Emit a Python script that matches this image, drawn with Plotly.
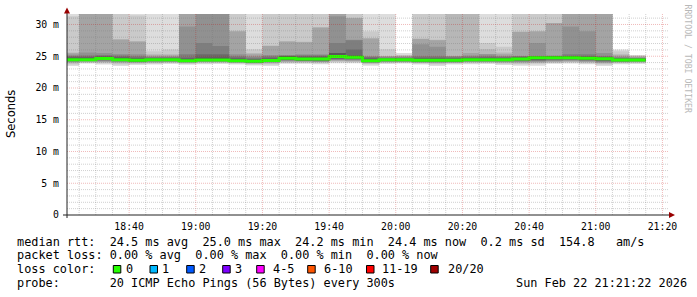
import plotly.graph_objects as go
import pandas as pd

# ---------------- data ----------------
first_bin_start = "2026-02-22 18:20:00"
view_start = "2026-02-22 18:21:22"
view_end = "2026-02-22 21:21:22"

# median rtt per 5-minute bin (ms)
median_ms = [24.45, 24.45, 24.65, 24.45, 24.35, 24.45, 24.45, 24.30, 24.40, 24.40,
             24.30, 24.20, 24.33, 24.70, 24.55, 24.55, 24.97, 24.85, 24.30, 24.45,
             24.45, 24.35, 24.35, 24.35, 24.45, 24.45, 24.45, 24.57, 24.75, 24.78,
             24.78, 24.67, 24.60, 24.42, 24.42]

# 20 sorted ping rtts per bin (ms)
pings_ms = [
    [23.45, 23.7, 23.9, 24.0, 24.1, 24.2, 24.25, 24.3, 24.35, 24.4, 24.5, 24.6, 24.75, 24.9, 25.05, 25.25, 25.45, 25.6, 31.3, 36.0],
    [23.85, 23.95, 24.05, 24.15, 24.2, 24.25, 24.3, 24.35, 24.38, 24.4, 24.5, 24.6, 24.75, 24.9, 25.1, 25.6, 33.0, 35.0, 37.0, 40.0],
    [23.7, 23.9, 24.0, 24.1, 24.2, 24.3, 24.4, 24.45, 24.55, 24.6, 24.7, 24.8, 24.9, 25.0, 25.2, 25.5, 33.0, 35.0, 37.0, 40.0],
    [23.45, 23.7, 23.9, 24.0, 24.1, 24.2, 24.25, 24.3, 24.35, 24.4, 24.5, 24.6, 24.75, 24.9, 25.1, 25.35, 27.6, 27.7, 34.0, 38.0],
    [23.6, 23.8, 23.9, 24.0, 24.05, 24.1, 24.15, 24.2, 24.25, 24.3, 24.4, 24.5, 24.65, 24.8, 25.0, 25.3, 27.3, 27.4, 31.4, 36.0],
    [23.7, 23.85, 23.95, 24.05, 24.15, 24.2, 24.25, 24.3, 24.35, 24.4, 24.5, 24.55, 24.65, 24.75, 24.85, 24.95, 25.1, 25.3, 25.8, 35.0],
    [23.8, 23.9, 24.0, 24.1, 24.15, 24.2, 24.25, 24.3, 24.35, 24.4, 24.5, 24.55, 24.65, 24.75, 24.85, 24.95, 25.1, 25.3, 26.05, 35.0],
    [23.65, 23.8, 23.9, 24.0, 24.05, 24.1, 24.15, 24.2, 24.22, 24.25, 24.35, 24.45, 24.6, 24.8, 25.3, 29.7, 33.0, 35.0, 37.0, 40.0],
    [23.75, 23.9, 24.0, 24.1, 24.15, 24.2, 24.25, 24.3, 24.32, 24.35, 24.45, 24.6, 24.8, 25.3, 27.1, 33.0, 35.0, 37.0, 39.0, 42.0],
    [23.8, 23.9, 24.0, 24.1, 24.15, 24.2, 24.25, 24.3, 24.32, 24.35, 24.45, 24.6, 24.8, 25.3, 26.6, 33.0, 35.0, 37.0, 39.0, 42.0],
    [23.7, 23.85, 23.95, 24.0, 24.05, 24.1, 24.15, 24.2, 24.22, 24.25, 24.35, 24.45, 24.6, 24.8, 25.0, 25.3, 28.9, 29.0, 34.0, 38.0],
    [23.55, 23.7, 23.8, 23.9, 23.95, 24.0, 24.03, 24.06, 24.08, 24.1, 24.3, 24.35, 24.45, 24.6, 24.8, 25.0, 25.3, 25.5, 26.1, 35.0],
    [23.45, 23.7, 23.85, 23.95, 24.05, 24.1, 24.15, 24.2, 24.25, 24.31, 24.35, 24.45, 24.6, 24.8, 25.0, 25.2, 26.6, 26.7, 33.0, 38.0],
    [23.8, 23.95, 24.05, 24.15, 24.25, 24.35, 24.4, 24.45, 24.5, 24.6, 24.8, 24.9, 25.0, 25.05, 25.1, 25.2, 27.3, 27.4, 33.0, 38.0],
    [23.8, 23.95, 24.05, 24.15, 24.2, 24.25, 24.3, 24.35, 24.4, 24.5, 24.6, 24.7, 24.85, 25.0, 25.15, 25.3, 27.2, 27.3, 33.0, 38.0],
    [23.75, 23.9, 24.0, 24.1, 24.15, 24.2, 24.3, 24.35, 24.4, 24.5, 24.6, 24.7, 24.85, 25.0, 25.15, 25.3, 29.5, 29.6, 33.0, 38.0],
    [23.9, 24.1, 24.2, 24.3, 24.4, 24.5, 24.6, 24.7, 24.8, 24.94, 25.0, 25.1, 25.5, 25.5, 27.1, 31.3, 34.0, 36.0, 38.0, 40.0],
    [23.9, 24.05, 24.15, 24.25, 24.35, 24.45, 24.55, 24.65, 24.7, 24.8, 24.9, 25.0, 25.1, 26.05, 27.5, 27.6, 31.0, 31.05, 34.0, 38.0],
    [23.5, 23.75, 23.85, 23.95, 24.0, 24.05, 24.1, 24.15, 24.2, 24.25, 24.35, 24.45, 24.6, 24.8, 24.9, 25.0, 27.8, 27.85, 28.9, 35.0],
    [23.8, 23.9, 24.0, 24.1, 24.15, 24.2, 24.25, 24.3, 24.35, 24.4, 24.5, 24.55, 24.6, 24.7, 24.8, 24.9, 25.0, 25.05, 26.1, 35.0],
    [23.85, 23.95, 24.05, 24.1, 24.15, 24.2, 24.25, 24.3, 24.35, 24.4, 24.5, 24.55, 24.6, 24.7, 24.8, 24.9, 25.0, 25.1, 25.2, 25.5],
    [23.7, 23.85, 23.95, 24.0, 24.05, 24.1, 24.15, 24.2, 24.25, 24.3, 24.4, 24.5, 24.65, 24.8, 25.0, 26.9, 27.7, 27.8, 34.0, 38.0],
    [23.45, 23.7, 23.85, 23.95, 24.0, 24.1, 24.15, 24.2, 24.25, 24.3, 24.4, 24.5, 24.65, 24.8, 25.0, 26.5, 27.5, 27.6, 34.0, 38.0],
    [23.7, 23.85, 23.95, 24.0, 24.05, 24.1, 24.15, 24.2, 24.25, 24.3, 24.4, 24.5, 24.6, 24.75, 24.9, 25.0, 25.05, 33.0, 36.0, 40.0],
    [23.75, 23.9, 24.0, 24.1, 24.15, 24.2, 24.25, 24.3, 24.35, 24.4, 24.5, 24.6, 24.7, 24.8, 24.95, 25.1, 25.5, 33.0, 36.0, 40.0],
    [23.8, 23.9, 24.0, 24.1, 24.15, 24.2, 24.25, 24.3, 24.35, 24.4, 24.5, 24.6, 24.7, 24.85, 25.0, 25.3, 25.35, 26.1, 27.1, 35.0],
    [23.6, 23.8, 23.95, 24.05, 24.1, 24.2, 24.25, 24.3, 24.35, 24.4, 24.5, 24.6, 24.7, 24.8, 24.9, 25.05, 25.3, 25.6, 26.5, 35.0],
    [23.5, 23.75, 23.9, 24.0, 24.1, 24.2, 24.3, 24.4, 24.45, 24.54, 24.6, 24.7, 24.8, 24.9, 25.0, 25.05, 28.8, 28.9, 34.0, 38.0],
    [23.5, 23.8, 23.95, 24.05, 24.15, 24.25, 24.35, 24.45, 24.55, 24.7, 24.8, 24.85, 24.9, 25.0, 25.05, 27.1, 28.9, 28.95, 34.0, 38.0],
    [23.8, 23.95, 24.05, 24.15, 24.25, 24.35, 24.45, 24.55, 24.6, 24.71, 24.85, 24.9, 24.95, 25.0, 25.05, 25.1, 30.2, 30.25, 34.0, 38.0],
    [23.85, 24.0, 24.1, 24.2, 24.3, 24.4, 24.5, 24.55, 24.6, 24.71, 24.85, 24.9, 24.95, 25.0, 25.3, 29.7, 33.0, 35.0, 37.0, 40.0],
    [23.75, 23.9, 24.0, 24.1, 24.2, 24.3, 24.4, 24.45, 24.5, 24.59, 24.75, 24.8, 24.9, 25.0, 25.3, 28.95, 33.0, 35.0, 37.0, 40.0],
    [23.45, 23.7, 23.85, 23.95, 24.05, 24.15, 24.25, 24.35, 24.45, 24.55, 24.65, 24.7, 24.8, 24.9, 25.0, 25.5, 33.0, 35.0, 37.0, 40.0],
    [23.75, 23.9, 24.0, 24.05, 24.1, 24.15, 24.2, 24.25, 24.3, 24.34, 24.5, 24.55, 24.6, 24.7, 24.8, 24.9, 25.1, 25.3, 25.8, 26.05],
    [23.8, 23.9, 24.0, 24.1, 24.15, 24.2, 24.25, 24.3, 24.32, 24.34, 24.5, 24.55, 24.6, 24.65, 24.7, 24.8, 24.9, 25.0, 25.1, 25.2],
]

y_tick_vals = [0, 5, 10, 15, 20, 25, 30]
y_tick_text = ["0", "5 m", "10 m", "15 m", "20 m", "25 m", "30 m"]

legend_line1 = "median rtt:  24.5 ms avg  25.0 ms max  24.2 ms min  24.4 ms now  0.2 ms sd  154.8   am/s"
legend_line2 = "packet loss: 0.00 % avg  0.00 % max  0.00 % min  0.00 % now"
legend_line3_title = "loss color:"
loss_labels = ["0", "1", "2", "3", "4-5", "6-10", "11-19", "20/20"]
loss_colors = ["#26ff00", "#00b8ff", "#0059ff", "#7e00ff", "#ff00ff", "#ff5500", "#ff0000", "#a00000"]
legend_line4 = "probe:       20 ICMP Echo Pings (56 Bytes) every 300s"
date_text = "Sun Feb 22 21:21:22 2026"
y_title = "Seconds"
side_text = "RRDTOOL / TOBI OETIKER"

# ---------------- geometry helpers ----------------
W, H = 697, 297
ML, MR, MT, MB = 67, 30, 14, 82
PW, PH = W - ML - MR, H - MT - MB
Y_MAX = 31.65


def px_x(px):
    return (px - ML) / PW


def px_y(py):
    return (H - MB - py) / PH


NB = len(median_ms)
edges = pd.date_range(first_bin_start, periods=NB + 1, freq="5min")
xs = [t.strftime("%Y-%m-%d %H:%M:%S") for t in edges]

fig = go.Figure()

# smoke layers (SmokePing style)
half = 10
for i in range(half):
    shade = int(190 / half * (half - (i + 1))) + 50
    col = "#%02x%02x%02x" % (shade, shade, shade)
    lo = [row[i] for row in pings_ms]
    hi = [row[19 - i] for row in pings_ms]
    fig.add_trace(go.Scatter(x=xs, y=lo + [lo[-1]], mode="lines",
                             line=dict(width=0, shape="hv"), hoverinfo="skip",
                             showlegend=False))
    fig.add_trace(go.Scatter(x=xs, y=hi + [hi[-1]], mode="lines",
                             line=dict(width=0, shape="hv"), fill="tonexty",
                             fillcolor=col, hoverinfo="skip", showlegend=False))

# median line
fig.add_trace(go.Scatter(x=xs, y=median_ms + [median_ms[-1]], mode="lines",
                         line=dict(color=loss_colors[0], width=3, shape="hv"),
                         hoverinfo="skip", showlegend=False))

shapes = []
minor_col = "rgba(120,120,120,0.35)"
major_col = "rgba(200,0,0,0.27)"
dash = "1px,1px"

# vertical grid every 5 minutes
grid_times = pd.date_range("2026-02-22 18:25:00", "2026-02-22 21:20:00", freq="5min")
for t in grid_times:
    major = (t.minute % 20 == 0)
    shapes.append(dict(type="line", xref="x", yref="paper",
                       x0=t.strftime("%Y-%m-%d %H:%M:%S"), x1=t.strftime("%Y-%m-%d %H:%M:%S"),
                       y0=0, y1=1, layer="above",
                       line=dict(color=major_col if major else minor_col, width=1, dash=dash)))
# horizontal grid every 1 ms
for v in range(1, 32):
    major = (v % 5 == 0)
    shapes.append(dict(type="line", xref="paper", yref="y", x0=0, x1=px_x(669),
                       y0=v, y1=v, layer="above",
                       line=dict(color=major_col if major else minor_col, width=1, dash=dash)))

# axis lines & arrows
axis_col = "#222222"
arrow_col = "#990000"
shapes.append(dict(type="line", xref="paper", yref="paper", x0=px_x(63), x1=px_x(670),
                   y0=px_y(215), y1=px_y(215), layer="above", line=dict(color=axis_col, width=1)))
shapes.append(dict(type="line", xref="paper", yref="paper", x0=px_x(67), x1=px_x(67),
                   y0=px_y(218), y1=px_y(11), layer="above", line=dict(color=axis_col, width=1)))
shapes.append(dict(type="path", xref="paper", yref="paper", layer="above",
                   path="M %f,%f L %f,%f L %f,%f Z" % (px_x(64), px_y(13.5), px_x(70), px_y(13.5), px_x(67), px_y(7.5)),
                   fillcolor=arrow_col, line=dict(color=arrow_col, width=0)))
shapes.append(dict(type="path", xref="paper", yref="paper", layer="above",
                   path="M %f,%f L %f,%f L %f,%f Z" % (px_x(669), px_y(212), px_x(669), px_y(218), px_x(675), px_y(215)),
                   fillcolor=arrow_col, line=dict(color=arrow_col, width=0)))

# loss colour boxes
box_px = [113.3, 150.0, 186.7, 222.7, 256.7, 307.7, 366.5, 430.7]
label_px = [124.0, 160.0, 196.7, 232.7, 270.7, 321.7, 380.0, 445.7]
for bx, c in zip(box_px, loss_colors):
    shapes.append(dict(type="rect", xref="paper", yref="paper",
                       x0=px_x(bx), x1=px_x(bx + 7.5), y0=px_y(273), y1=px_y(265.5),
                       fillcolor=c, line=dict(color="#000000", width=1)))

mono = "DejaVu Sans Mono"
LEG_SIZE = 11.85


def nb(s):
    return s.replace(" ", "\u00a0")


annotations = []


def add_text(text, px, py, size=LEG_SIZE, family=mono, color="#000000", xanchor="left", angle=0):
    annotations.append(dict(text=nb(text), x=px_x(px), y=px_y(py), xref="paper", yref="paper",
                            xanchor=xanchor, yanchor="middle", showarrow=False, textangle=angle,
                            font=dict(family=family, size=size, color=color)))


add_text(legend_line1, 15, 241.5)
add_text(legend_line2, 15, 255)
add_text(legend_line3_title, 15, 269)
for lx, lab in zip(label_px, loss_labels):
    add_text(lab, lx, 269)
add_text(legend_line4, 15, 282.5)
add_text(date_text, 513.5, 282.5)
add_text(y_title, 11, 114, size=11.5, family="DejaVu Sans", xanchor="center", angle=-90)
add_text(side_text, 687.5, 59, size=8.2, color="#b8b8b8", xanchor="center", angle=90)

fig.update_layout(
    width=W, height=H,
    margin=dict(l=ML, r=MR, t=MT, b=MB, pad=0),
    paper_bgcolor="white", plot_bgcolor="white",
    showlegend=False,
    font=dict(family=mono, size=9.8, color="#000000"),
    shapes=shapes, annotations=annotations,
    xaxis=dict(type="date", range=[view_start, view_end], tickformat="%H:%M",
               tick0="2026-02-22 18:40:00", dtick=20 * 60 * 1000,
               showgrid=False, zeroline=False, showline=False, ticks="",
               ticklabelstandoff=4, fixedrange=True),
    yaxis=dict(range=[0, Y_MAX], tickmode="array", tickvals=y_tick_vals, ticktext=y_tick_text,
               showgrid=False, zeroline=False, showline=False, ticks="",
               ticklabelstandoff=7, fixedrange=True),
)

fig.write_html("out.html")
